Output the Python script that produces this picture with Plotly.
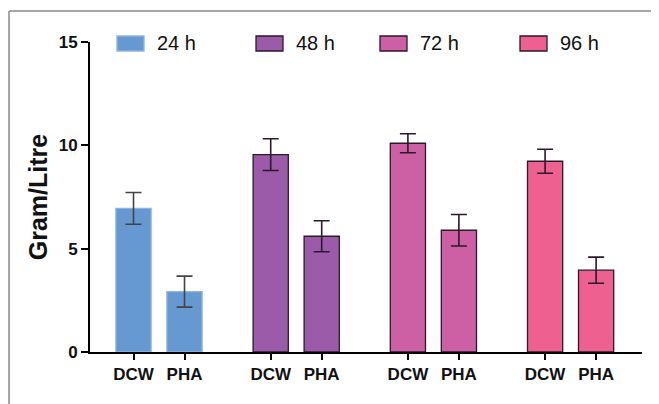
import plotly.graph_objects as go

# ---- data ----
series = ["24 h", "48 h", "72 h", "96 h"]
measures = ["DCW", "PHA"]
values = {
    "24 h": [6.95, 2.92],
    "48 h": [9.55, 5.60],
    "72 h": [10.10, 5.89],
    "96 h": [9.23, 3.96],
}
errors = {
    "24 h": [0.77, 0.75],
    "48 h": [0.77, 0.75],
    "72 h": [0.46, 0.76],
    "96 h": [0.58, 0.63],
}
colors = ["#6699d2", "#9b5ba8", "#cd5fa5", "#ee6090"]
outline = ["#8fb3e0", "#2a1a2a", "#2a1a2a", "#2a1a2a"]
errcol = ["#444444", "#2a1a2a", "#2a1a2a", "#2a1a2a"]
y_ticks = [0, 5, 10, 15]

# layout geometry (pixels); page body has an 8px default margin
OFF = 8
W, H = 659 - OFF, 404 - OFF
ML, MR, MT, MB = 90 - OFF, 17, 42 - OFF, 52
PW, PH = W - ML - MR, H - MT - MB
GROUP_STEP = 2.69

fig = go.Figure()
tickvals, ticktext = [], []
for g, s in enumerate(series):
    xs = [g * GROUP_STEP + m for m in range(len(measures))]
    tickvals += xs
    ticktext += measures
    fig.add_trace(go.Bar(
        x=xs, y=values[s], name=s, width=0.69,
        marker=dict(color=colors[g], line=dict(color=outline[g], width=1.3)),
        error_y=dict(type="data", array=errors[s], visible=True,
                     color=errcol[g], thickness=1.6, width=8),
        showlegend=False,
    ))

font_b = "Arial, 'Liberation Sans', sans-serif"

fig.update_layout(
    width=W, height=H,
    margin=dict(l=ML, r=MR, t=MT, b=MB),
    paper_bgcolor="white", plot_bgcolor="white",
    barmode="overlay",
    xaxis=dict(
        range=[-0.853, 9.97], tickvals=tickvals, ticktext=ticktext,
        showline=True, linecolor="black", linewidth=2,
        ticks="outside", ticklen=6, tickwidth=2, tickcolor="black",
        showgrid=False, zeroline=False,
        tickfont=dict(family=font_b, size=17, color="#111", weight="bold"),
    ),
    yaxis=dict(
        range=[0, 15], tickvals=y_ticks,
        showline=True, linecolor="black", linewidth=2,
        ticks="outside", ticklen=7, tickwidth=2, tickcolor="black",
        showgrid=False, zeroline=False,
        tickfont=dict(family=font_b, size=17, color="#111", weight="bold"),
        title=dict(text="Gram/Litre", standoff=4,
                   font=dict(family=font_b, size=25, color="#111", weight="bold")),
    ),
)

# custom legend
def px2x(px):
    return (px - OFF - ML) / PW

def py2y(py):
    return (H - MB - (py - OFF)) / PH

legend_x = [117, 256, 380, 520]
for i, s in enumerate(series):
    fig.add_shape(type="rect", xref="paper", yref="paper",
                  x0=px2x(legend_x[i]), x1=px2x(legend_x[i] + 27),
                  y0=py2y(51), y1=py2y(36),
                  fillcolor=colors[i], line=dict(color=outline[i], width=1.3))
    fig.add_annotation(xref="paper", yref="paper",
                       x=px2x(legend_x[i] + 38), y=py2y(43),
                       xanchor="left", yanchor="middle", showarrow=False,
                       text=s, font=dict(family=font_b, size=20, color="#111"))

# figure frame (top and left edges)
fig.add_shape(type="line", xref="paper", yref="paper",
              x0=px2x(9), x1=px2x(700), y0=py2y(11), y1=py2y(11),
              line=dict(color="#888", width=1.5))
fig.add_shape(type="line", xref="paper", yref="paper",
              x0=px2x(9), x1=px2x(9), y0=py2y(11), y1=py2y(450),
              line=dict(color="#888", width=1.5))

fig.write_html("out.html")
